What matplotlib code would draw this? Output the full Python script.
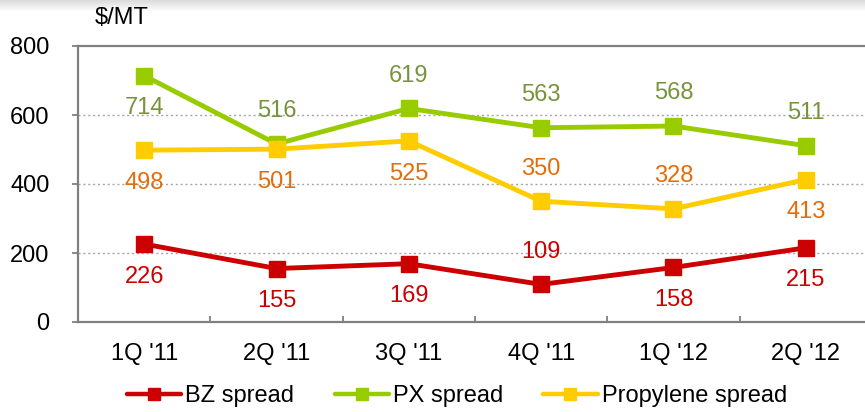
import matplotlib
matplotlib.use("Agg")
import matplotlib.pyplot as plt
from matplotlib.ticker import FixedLocator
from matplotlib.lines import Line2D
import numpy as np

plt.rcParams['font.family'] = ['Liberation Sans', 'DejaVu Sans']

categories = ["1Q '11", "2Q '11", "3Q '11", "4Q '11", "1Q '12", "2Q '12"]
bz = [226, 155, 169, 109, 158, 215]
px = [714, 516, 619, 563, 568, 511]
propylene = [498, 501, 525, 350, 328, 413]

# label placement: +1 above, -1 below
bz_pos = [-1, -1, -1, 1, -1, -1]
px_pos = [-1, 1, 1, 1, 1, 1]
pr_pos = [-1, -1, -1, 1, 1, -1]

W, H = 865, 412
fig = plt.figure(figsize=(W / 100, H / 100), dpi=100)

# top shadow band
sh = fig.add_axes([0, 1 - 12 / H, 1, 12 / H])
grad = np.linspace(0.86, 1.0, 50).reshape(-1, 1)
sh.imshow(grad, aspect='auto', cmap='gray', vmin=0, vmax=1, extent=[0, 1, 0, 1], origin='upper')
sh.axis('off')

ax = fig.add_axes([78 / W, 90 / H, 794 / W, 276 / H])

x = np.arange(len(categories))
series = [
    ("BZ spread", bz, "#CC0000", "#CC0000", bz_pos),
    ("PX spread", px, "#99CC00", "#77933C", px_pos),
    ("Propylene spread", propylene, "#FFCC00", "#E46C0A", pr_pos),
]
fs = 17
handles = []
for name, vals, col, lcol, pos in series:
    ax.plot(x, vals, color=col, lw=3.5, marker='s', ms=11, mfc=col, mec=col,
            label=name, zorder=3)
    handles.append(Line2D([], [], color=col, lw=3.2, marker='s', ms=8, mfc=col, mec=col,
                          solid_capstyle='round', label=name))
    for xi, v, p in zip(x, vals, pos):
        ax.annotate(str(v), (xi, v), xytext=(0, 23.5 * p), textcoords='offset points',
                    ha='center', va='center', color=lcol, fontsize=fs, zorder=4)

ax.set_xlim(-0.5, 5.5)
ax.set_ylim(0, 800)
ax.set_yticks([0, 200, 400, 600, 800])
ax.set_xticks(x)
ax.set_xticklabels(categories)
ax.xaxis.set_minor_locator(FixedLocator(np.arange(0.5, 5.6, 1)))
ax.tick_params(axis='x', which='major', length=0, pad=15, labelsize=fs)
ax.tick_params(axis='x', which='minor', direction='in', length=4.5, width=1.3, color='#808080')
ax.tick_params(axis='y', which='major', direction='out', length=4.5, width=1.3,
               color='#808080', pad=16, labelsize=fs)

for yv in [200, 400, 600]:
    ax.axhline(yv, color='#A6A6A6', lw=1.0, ls=(0, (1.5, 2)), zorder=1)

for s in ['left', 'bottom', 'top', 'right']:
    ax.spines[s].set_color('#808080')
    ax.spines[s].set_linewidth(1.6)

fig.text(95 / W, 1 - 18 / H, r'\$/MT', fontsize=fs, ha='left', va='center')

fig.legend(handles=handles, loc='center', bbox_to_anchor=(457 / W, 1 - 396 / H), ncol=3,
           frameon=False, fontsize=fs, handlelength=2.3, handletextpad=0.17,
           columnspacing=1.7, borderaxespad=0, borderpad=0)

fig.savefig('out.png', dpi=100)
